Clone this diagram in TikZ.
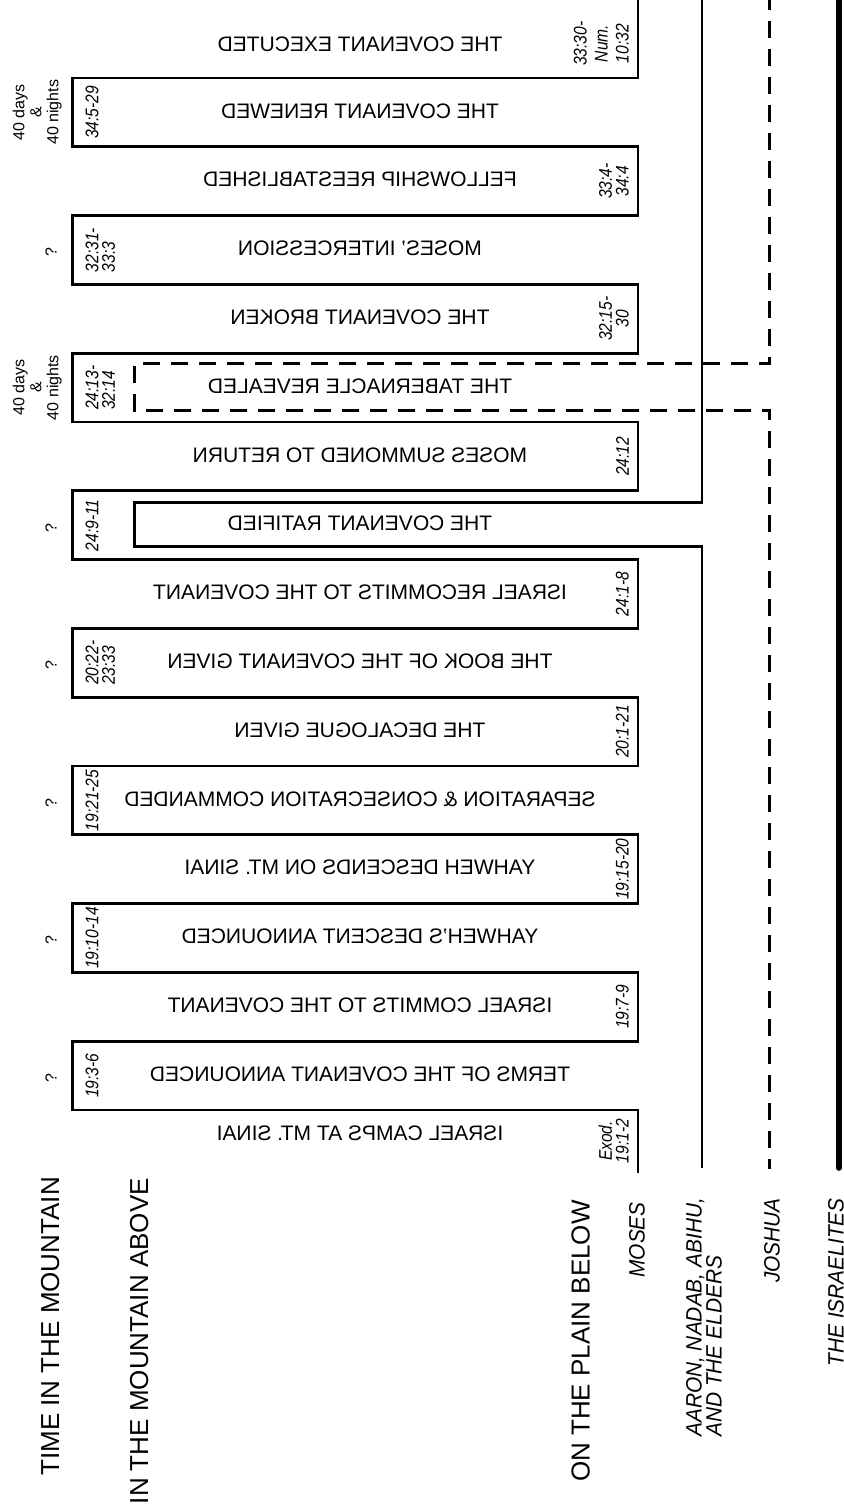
\documentclass[tikz,border=0pt]{standalone}
\usepackage{fontspec}
\setmainfont{Liberation Sans}
\newfontfamily\reffont[FakeStretch=0.85]{Liberation Sans}
\newfontfamily\whofont[FakeStretch=0.94]{Liberation Sans}
\usepackage{graphicx}
\tikzset{
  evt/.style={inner sep=0pt, font=\fontsize{21}{24}\selectfont},
  refl/.style={rotate=90, inner sep=0pt, anchor=north, align=left, font=\reffont\fontsize{18.3}{16.5}\selectfont\itshape},
  refr/.style={rotate=90, inner sep=0pt, anchor=south, align=center, font=\reffont\fontsize{18.3}{16.8}\selectfont\itshape},
  qmark/.style={rotate=90, inner sep=0pt, font=\fontsize{16}{17}\selectfont},
  days/.style={rotate=90, inner sep=0pt, anchor=north, align=center, font=\fontsize{16}{17}\selectfont},
  head/.style={rotate=90, inner sep=0pt, anchor=south east, font=\fontsize{26}{28}\selectfont},
  who/.style={rotate=90, inner sep=0pt, font=\whofont\fontsize{22.2}{20}\selectfont\itshape},
  mosesline/.style={line width=2.8pt, line join=miter},
  aaronline/.style={line width=2.3pt, line join=miter},
  joshualine/.style={line width=2.8pt, dash pattern=on 17pt off 11pt, dash phase=7pt},
  peopleline/.style={line width=5.6pt, line cap=round},
}
\begin{document}
\begin{tikzpicture}[x=1pt, y=-1pt]
\fill[white] (0,0) rectangle (843,1512);
\useasboundingbox (0,0) rectangle (843,1512);

% line end points
\coordinate (mosesBot) at (638,1173);
\coordinate (mosesTop) at (638,-6);
\coordinate (aaronBot) at (701.7,1168);
\coordinate (aaronTop) at (701.7,-6);
\coordinate (joshBot) at (769.3,1169);
\coordinate (joshTop) at (769.3,-6);
\coordinate (peopleBot) at (838.8,1168);
\coordinate (peopleTop) at (838.8,-10);

% Moses serpentine
\draw[mosesline] (mosesBot) -- (638,1110) -- (72.7,1110) -- (72.7,1041.2) -- (638,1041.2)
  -- (638,972.4) -- (72.7,972.4) -- (72.7,903.6) -- (638,903.6)
  -- (638,834.8) -- (72.7,834.8) -- (72.7,766) -- (638,766)
  -- (638,697.2) -- (72.7,697.2) -- (72.7,628.4) -- (638,628.4)
  -- (638,559.6) -- (72.7,559.6) -- (72.7,490.8) -- (638,490.8)
  -- (638,422) -- (72.7,422) -- (72.7,353.2) -- (638,353.2)
  -- (638,284.4) -- (72.7,284.4) -- (72.7,215.6) -- (638,215.6)
  -- (638,146.8) -- (72.7,146.8) -- (72.7,78) -- (638,78) -- (mosesTop);

% Aaron, Nadab, Abihu and the elders
\draw[aaronline] (aaronBot) -- (701.7,546.5) -- (134.5,546.5) -- (134.5,502.5) -- (701.7,502.5) -- (aaronTop);

% Joshua
\draw[joshualine] (joshBot) -- (769.3,410.3) -- (134.5,410.3) -- (134.5,363.7) -- (769.3,363.7) -- (joshTop);

% The Israelites
\draw[peopleline] (peopleBot) -- (peopleTop);

% event labels (mirrored)
\node[evt] (e1) at (360,1133) {\reflectbox{ISRAEL CAMPS AT MT. SINAI}};
\node[evt] (e2) at (360,1074.1) {\reflectbox{TERMS OF THE COVENANT ANNOUNCED}};
\node[evt] (e3) at (360,1005.3) {\reflectbox{ISRAEL COMMITS TO THE COVENANT}};
\node[evt] (e4) at (360,936.5) {\reflectbox{YAHWEH'S DESCENT ANNOUNCED}};
\node[evt] (e5) at (360,867.7) {\reflectbox{YAHWEH DESCENDS ON MT. SINAI}};
\node[evt] (e6) at (360,798.9) {\reflectbox{SEPARATION \& CONSECRATION COMMANDED}};
\node[evt] (e7) at (360,730.1) {\reflectbox{THE DECALOGUE GIVEN}};
\node[evt] (e8) at (360,661.3) {\reflectbox{THE BOOK OF THE COVENANT GIVEN}};
\node[evt] (e9) at (360,592.5) {\reflectbox{ISRAEL RECOMMITS TO THE COVENANT}};
\node[evt] (e10) at (360,523.7) {\reflectbox{THE COVENANT RATIFIED}};
\node[evt] (e11) at (360,454.9) {\reflectbox{MOSES SUMMONED TO RETURN}};
\node[evt] (e12) at (360,386.1) {\reflectbox{THE TABERNACLE REVEALED}};
\node[evt] (e13) at (360,317.3) {\reflectbox{THE COVENANT BROKEN}};
\node[evt] (e14) at (360,248.5) {\reflectbox{MOSES' INTERCESSION}};
\node[evt] (e15) at (360,179.7) {\reflectbox{FELLOWSHIP REESTABLISHED}};
\node[evt] (e16) at (360,110.9) {\reflectbox{THE COVENANT RENEWED}};
\node[evt] (e17) at (360,44.5) {\reflectbox{THE COVENANT EXECUTED}};

% scripture references
\node[refr] (r1) at (629,1141) {Exod.\\19:1-2};
\node[refl] (r2) at (85.5,1075.6) {19:3-6};
\node[refr] (r3) at (629,1006.8) {19:7-9};
\node[refl] (r4) at (85.5,938) {19:10-14};
\node[refr] (r5) at (629,869.2) {19:15-20};
\node[refl] (r6) at (85.5,800.4) {19:21-25};
\node[refr] (r7) at (629,731.6) {20:1-21};
\node[refl] (r8) at (85.5,662.8) {20:22-\\23:33};
\node[refr] (r9) at (629,594) {24:1-8};
\node[refl] (r10) at (85.5,525.2) {24:9-11};
\node[refr] (r11) at (629,456.4) {24:12};
\node[refl] (r12) at (85.5,387.6) {24:13-\\32:14};
\node[refr] (r13) at (629,318.8) {32:15-\\30};
\node[refl] (r14) at (85.5,250) {32:31-\\33:3};
\node[refr] (r15) at (629,181.2) {33:4-\\34:4};
\node[refl] (r16) at (85.5,112.4) {34:5-29};
\node[refr, font=\reffont\fontsize{18.3}{21}\selectfont\itshape] (r17) at (629,43.6) {33:30-\\Num.\\10:32};

% time in the mountain
\node[qmark] (q2) at (51,1078) {?};
\node[qmark] (q4) at (51,940.5) {?};
\node[qmark] (q6) at (51,802.9) {?};
\node[qmark] (q8) at (51,665.3) {?};
\node[qmark] (q10) at (51,527.7) {?};
\node[days] (d12) at (12.5,387.6) {40 days\\\&\\40 nights};
\node[qmark] (q14) at (51,252.5) {?};
\node[days] (d16) at (12.5,112.4) {40 days\\\&\\40 nights};

% row headings
\node[head] (hTime) at (59.5,1177) {TIME IN THE MOUNTAIN};
\node[head] (hAbove) at (148.5,1178) {IN THE MOUNTAIN ABOVE};
\node[head] (hBelow) at (590,1200) {ON THE PLAIN BELOW};

% participants
\node[who, anchor=south east] (wMoses) at (645,1202) {MOSES};
\node[who, anchor=south west, align=left] (wAaron) at (722,1437) {AARON, NADAB, ABIHU,\\AND THE ELDERS};
\node[who, anchor=south east] (wJoshua) at (780,1198) {JOSHUA};
\node[who, anchor=south east] (wPeople) at (844,1198) {THE ISRAELITES};
\end{tikzpicture}
\end{document}
